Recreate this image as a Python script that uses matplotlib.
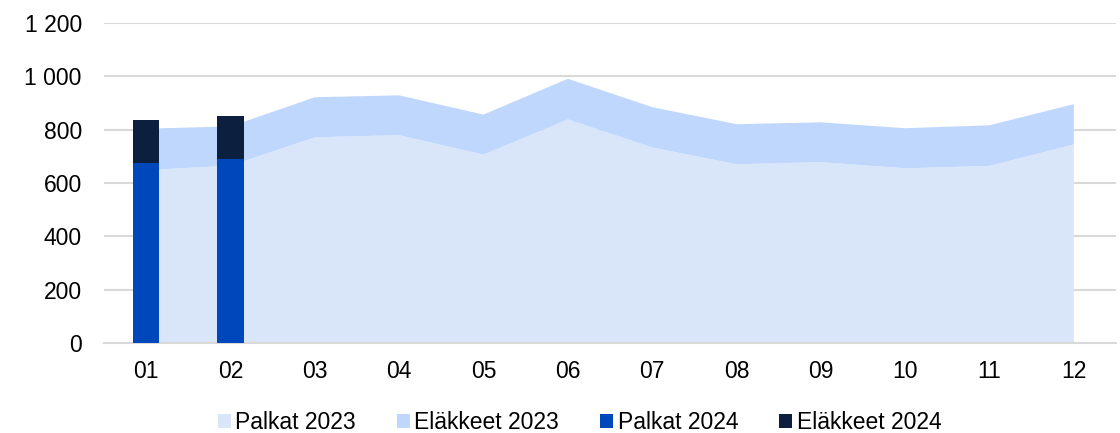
import numpy as np
import matplotlib.pyplot as plt

plt.rcParams['font.family'] = ['Liberation Sans', 'DejaVu Sans']

months = ["01", "02", "03", "04", "05", "06", "07", "08", "09", "10", "11", "12"]
palkat_2023 = [648, 665, 771, 779, 706, 838, 733, 670, 678, 655, 664, 744]
elakkeet_2023 = [155, 147, 150, 149, 150, 152, 151, 150, 149, 150, 152, 151]
palkat_2024 = [673, 688]
elakkeet_2024 = [161, 163]

x = np.arange(len(months))

fig = plt.figure(figsize=(11.2, 4.33), dpi=100)
ax = fig.add_axes([0.0929, 0.2072, 0.9035, 0.7404])

ax.stackplot(x, palkat_2023, elakkeet_2023, colors=["#d9e5f8", "#bfd7fd"],
             labels=["Palkat 2023", "Eläkkeet 2023"], zorder=2)
x24 = x[:len(palkat_2024)]
ax.bar(x24, palkat_2024, width=0.31, color="#0047bb", label="Palkat 2024", zorder=3)
ax.bar(x24, elakkeet_2024, width=0.31, bottom=palkat_2024, color="#0c1f3f",
       label="Eläkkeet 2024", zorder=3)

ax.set_xlim(-0.5, 11.5)
ax.set_ylim(0, 1200)
ax.set_yticks(range(0, 1201, 200))
ax.set_yticklabels([f"{v:,}".replace(",", " ") for v in range(0, 1201, 200)])
ax.set_xticks(x)
ax.set_xticklabels(months)
ax.grid(axis="y", color="#d9d9d9", linewidth=1.5, zorder=0)
ax.set_axisbelow(True)
for s in ["top", "right", "left"]:
    ax.spines[s].set_visible(False)
ax.spines["bottom"].set_color("#d9d9d9")
ax.spines["bottom"].set_linewidth(1.5)
ax.tick_params(length=0, labelsize=16.5, colors="#000000")
ax.tick_params(axis="y", pad=16)
ax.tick_params(axis="x", pad=12)

ax.legend(loc="center", bbox_to_anchor=(0.47, -0.247), ncol=4, frameon=False,
          fontsize=16.5, handlelength=0.55, handleheight=0.55, handletextpad=0.2,
          columnspacing=1.8, borderpad=0)

fig.savefig("out.png", dpi=100)
